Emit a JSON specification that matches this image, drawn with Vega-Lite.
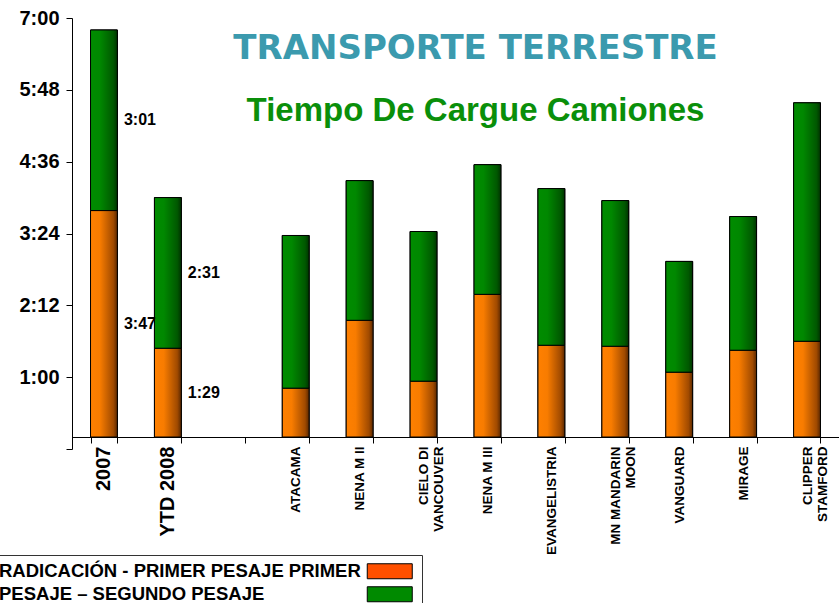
{
  "$schema": "https://vega.github.io/schema/vega-lite/v6.json",
  "autosize": {"type": "none"},
  "padding": {"left": 72, "top": 18, "right": 0, "bottom": 154},
  "width": 767,
  "height": 431,
  "background": "white",
  "config": {"view": {"stroke": null}},
  "title": {
    "text": "TRANSPORTE TERRESTRE",
    "subtitle": "Tiempo De Cargue Camiones",
    "anchor": "middle",
    "dx": 20,
    "offset": -120,
    "font": "DejaVu Sans",
    "fontSize": 34,
    "fontWeight": "bold",
    "color": "#3B9AAE",
    "subtitleFont": "Liberation Sans",
    "subtitleFontSize": 33,
    "subtitleFontWeight": "bold",
    "subtitleColor": "#0A8F0A",
    "subtitlePadding": 29
  },
  "data": {
    "values": [
      {"cat": "2007", "serie": "RADICACIÓN - PRIMER PESAJE", "orden": 1, "min": 227, "label": "3:47"},
      {"cat": "2007", "serie": "PRIMER PESAJE – SEGUNDO PESAJE", "orden": 2, "min": 181, "label": "3:01"},
      {"cat": "YTD 2008", "serie": "RADICACIÓN - PRIMER PESAJE", "orden": 1, "min": 89, "label": "1:29"},
      {"cat": "YTD 2008", "serie": "PRIMER PESAJE – SEGUNDO PESAJE", "orden": 2, "min": 151, "label": "2:31"},
      {"cat": "ATACAMA", "serie": "RADICACIÓN - PRIMER PESAJE", "orden": 1, "min": 49},
      {"cat": "ATACAMA", "serie": "PRIMER PESAJE – SEGUNDO PESAJE", "orden": 2, "min": 153},
      {"cat": "NENA M II", "serie": "RADICACIÓN - PRIMER PESAJE", "orden": 1, "min": 117},
      {"cat": "NENA M II", "serie": "PRIMER PESAJE – SEGUNDO PESAJE", "orden": 2, "min": 140},
      {"cat": "CIELO DI VANCOUVER", "serie": "RADICACIÓN - PRIMER PESAJE", "orden": 1, "min": 56},
      {"cat": "CIELO DI VANCOUVER", "serie": "PRIMER PESAJE – SEGUNDO PESAJE", "orden": 2, "min": 150},
      {"cat": "NENA M III", "serie": "RADICACIÓN - PRIMER PESAJE", "orden": 1, "min": 143},
      {"cat": "NENA M III", "serie": "PRIMER PESAJE – SEGUNDO PESAJE", "orden": 2, "min": 130},
      {"cat": "EVANGELISTRIA", "serie": "RADICACIÓN - PRIMER PESAJE", "orden": 1, "min": 92},
      {"cat": "EVANGELISTRIA", "serie": "PRIMER PESAJE – SEGUNDO PESAJE", "orden": 2, "min": 157},
      {"cat": "MN MANDARIN MOON", "serie": "RADICACIÓN - PRIMER PESAJE", "orden": 1, "min": 91},
      {"cat": "MN MANDARIN MOON", "serie": "PRIMER PESAJE – SEGUNDO PESAJE", "orden": 2, "min": 146},
      {"cat": "VANGUARD", "serie": "RADICACIÓN - PRIMER PESAJE", "orden": 1, "min": 65},
      {"cat": "VANGUARD", "serie": "PRIMER PESAJE – SEGUNDO PESAJE", "orden": 2, "min": 111},
      {"cat": "MIRAGE", "serie": "RADICACIÓN - PRIMER PESAJE", "orden": 1, "min": 87},
      {"cat": "MIRAGE", "serie": "PRIMER PESAJE – SEGUNDO PESAJE", "orden": 2, "min": 134},
      {"cat": "CLIPPER STAMFORD", "serie": "RADICACIÓN - PRIMER PESAJE", "orden": 1, "min": 96},
      {"cat": "CLIPPER STAMFORD", "serie": "PRIMER PESAJE – SEGUNDO PESAJE", "orden": 2, "min": 239}
    ]
  },
  "transform": [
    {"stack": "min", "groupby": ["cat"], "sort": [{"field": "orden"}], "as": ["y0", "y1"]}
  ],
  "encoding": {
    "x": {
      "field": "cat",
      "type": "nominal",
      "sort": null,
      "scale": {
        "domain": ["2007", "YTD 2008", "gap", "ATACAMA", "NENA M II", "CIELO DI VANCOUVER", "NENA M III", "EVANGELISTRIA", "MN MANDARIN MOON", "VANGUARD", "MIRAGE", "CLIPPER STAMFORD"],
        "paddingInner": 0.58,
        "paddingOuter": 0.29
      },
      "axis": {
        "title": null,
        "labelAngle": -90,
        "labelFont": "Liberation Sans",
        "labelFontWeight": "bold",
        "labelColor": "black",
        "labelFontSize": {"condition": {"test": "datum.value == '2007' || datum.value == 'YTD 2008'", "value": 20}, "value": 13.5},
        "labelPadding": 3,
        "labelLineHeight": 15,
        "labelExpr": "datum.value == 'gap' ? '' : datum.value == 'CIELO DI VANCOUVER' ? ['CIELO DI\u00a0\u00a0\u00a0\u00a0', 'VANCOUVER'] : datum.value == 'MN MANDARIN MOON' ? ['MN MANDARIN', 'MOON\u00a0\u00a0\u00a0\u00a0\u00a0\u00a0\u00a0\u00a0'] : datum.value == 'CLIPPER STAMFORD' ? ['CLIPPER\u00a0\u00a0', 'STAMFORD'] : (datum.value == '2007' || datum.value == 'YTD 2008') ? datum.value + '\u00a0' : datum.value",
        "offset": -12,
        "tickBand": "extent",
        "tickSize": 6,
        "tickColor": "black",
        "domainColor": "black",
        "labelOverlap": false
      }
    }
  },
  "layer": [
    {
      "mark": {"type": "bar", "stroke": "black", "strokeWidth": 1},
      "encoding": {
        "y": {
          "field": "y0",
          "type": "quantitative",
          "scale": {"domain": [-12, 420], "nice": false, "zero": false},
          "axis": {
            "title": null,
            "values": [-12, 60, 132, 204, 276, 348, 420],
            "labelExpr": "datum.value < 0 ? '' : floor(datum.value / 60) + ':' + (datum.value % 60 < 10 ? '0' : '') + (datum.value % 60)",
            "labelFont": "Liberation Sans",
            "labelFontSize": 20,
            "labelFontWeight": "bold",
            "labelColor": "black",
            "labelPadding": 7,
            "grid": false,
            "tickSize": 6,
            "tickColor": "black",
            "domainColor": "black"
          }
        },
        "y2": {"field": "y1"},
        "color": {
          "field": "serie",
          "type": "nominal",
          "scale": {"domain": ["RADICACIÓN - PRIMER PESAJE", "PRIMER PESAJE – SEGUNDO PESAJE"], "range": ["#FF5000", "#008A00"]},
          "legend": {
            "orient": "none",
            "legendX": -79,
            "legendY": 537,
            "title": null,
            "labelFont": "Liberation Sans",
            "labelFontSize": 18.5,
            "labelFontWeight": "bold",
            "labelColor": "black",
            "labelAlign": "left",
            "labelOffset": -400,
            "labelLimit": 600,
            "labelExpr": "datum.value == 'RADICACIÓN - PRIMER PESAJE' ? 'RADICACIÓN - PRIMER PESAJE PRIMER' : 'PESAJE – SEGUNDO PESAJE'",
            "symbolType": "M-3,-1H3V1H-3Z",
            "symbolSize": 225,
            "symbolOffset": 380.5,
            "symbolStrokeColor": "black",
            "symbolStrokeWidth": 1,
            "symbolOpacity": 1,
            "strokeColor": "#333333",
            "fillColor": "white",
            "padding": 7,
            "rowPadding": 3
          }
        }
      }
    },
    {
      "transform": [{"filter": "datum.orden == 1"}],
      "mark": {
        "type": "bar",
        "stroke": "black",
        "strokeWidth": 1,
        "fill": {"gradient": "linear", "x1": 0, "x2": 1, "y1": 0, "y2": 0, "stops": [{"offset": 0, "color": "#FF8000"}, {"offset": 0.35, "color": "#F87C00"}, {"offset": 0.85, "color": "#A04A00"}, {"offset": 1, "color": "#5A2800"}]}
      },
      "encoding": {"y": {"field": "y0", "type": "quantitative"}, "y2": {"field": "y1"}}
    },
    {
      "transform": [{"filter": "datum.orden == 2"}],
      "mark": {
        "type": "bar",
        "stroke": "black",
        "strokeWidth": 1,
        "fill": {"gradient": "linear", "x1": 0, "x2": 1, "y1": 0, "y2": 0, "stops": [{"offset": 0, "color": "#008C00"}, {"offset": 0.35, "color": "#008800"}, {"offset": 0.85, "color": "#005800"}, {"offset": 1, "color": "#003300"}]}
      },
      "encoding": {"y": {"field": "y0", "type": "quantitative"}, "y2": {"field": "y1"}}
    },
    {
      "transform": [
        {"filter": "datum.label"},
        {"fold": ["y0", "y1"], "as": ["k", "v"]},
        {"aggregate": [{"op": "mean", "field": "v", "as": "mid"}], "groupby": ["cat", "label"]}
      ],
      "mark": {"type": "text", "dx": 36, "align": "center", "baseline": "middle", "font": "Liberation Sans", "fontSize": 16, "fontWeight": "bold", "color": "black"},
      "encoding": {
        "y": {"field": "mid", "type": "quantitative"},
        "text": {"field": "label"}
      }
    }
  ]
}
